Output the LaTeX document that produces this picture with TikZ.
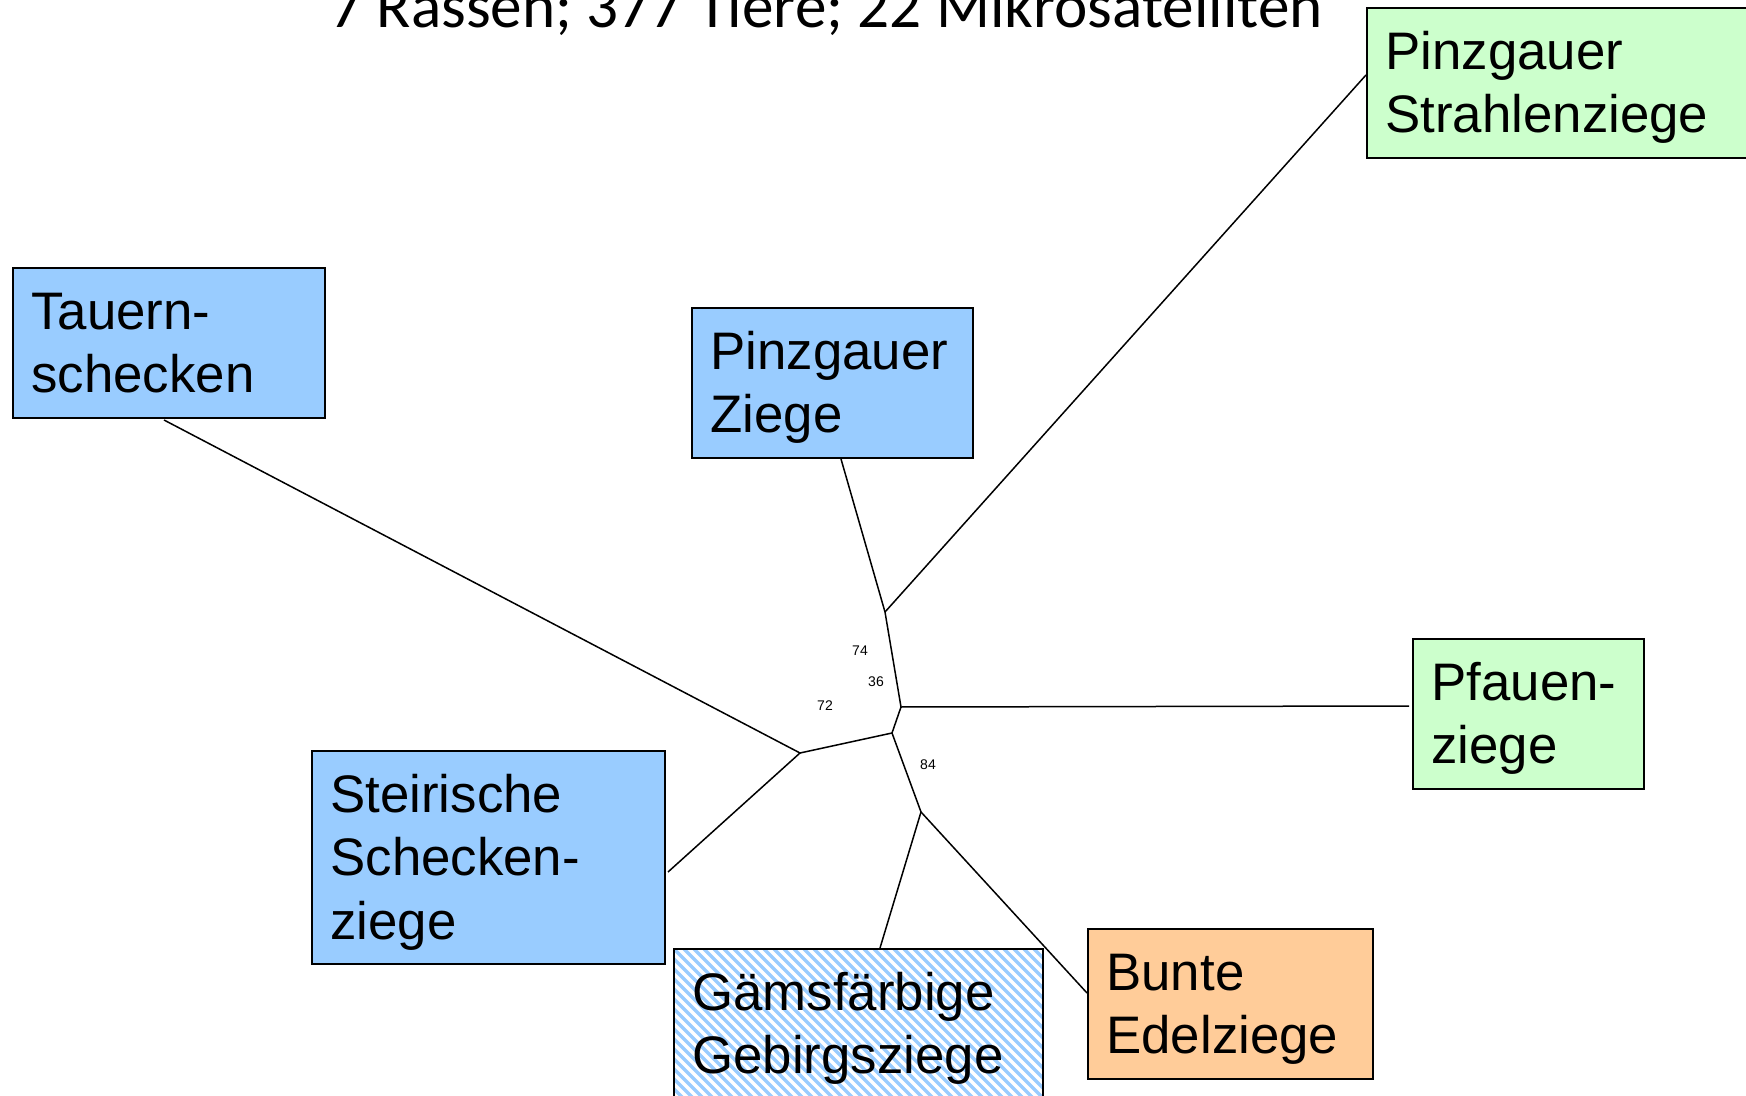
\documentclass[tikz,border=0pt]{standalone}
\usepackage{xcolor}
\usepackage{fontspec}
\setmainfont{Liberation Sans}
\newfontfamily\titlefont{Carlito}
\usepackage{tikz}
\usetikzlibrary{calc}
\definecolor{breedblue}{HTML}{99CCFF}
\definecolor{breedgreen}{HTML}{CCFFCC}
\definecolor{breedorange}{HTML}{FFCC99}
\tikzset{
  breed/.style={draw=black, line width=0.9pt, anchor=north west, align=left,
    inner xsep=9.25pt, inner ysep=0pt, text height=30.65pt,
    font=\fontsize{26.4}{31.75}\selectfont},
  twolines/.style={text depth=44.35pt},
  threelines/.style={text depth=75.85pt},
  branch/.style={line width=0.75pt},
  support/.style={font=\fontsize{7}{8}\selectfont, inner sep=0pt},
  stripe/.style={breedblue, line width=1.75pt}
}

\begin{document}
\begin{tikzpicture}[x=0.5pt,y=-0.5pt]
\useasboundingbox (0,0) rectangle (1746,1096);
\node[font=\titlefont\fontsize{31.6}{38}\selectfont, anchor=base] (title) at (826.5,28) {7 Rassen; 377 Tiere; 22 Mikrosatelliten};
% inner points of the tree
\coordinate (a) at (800,753);
\coordinate (b) at (892,733);
\coordinate (c) at (901,707);
\coordinate (d) at (885,612);
\coordinate (e) at (921,812);
% tips
\coordinate (tauerntip) at (164,420);
\coordinate (steirtip) at (668,872);
\coordinate (pfauentip) at (1409,706);
\coordinate (pztip) at (841,459);
\coordinate (strahlentip) at (1366,75);
\coordinate (gamstip) at (880,948);
\coordinate (buntetip) at (1087,993);
\draw[branch] (tauerntip) -- (a) -- (steirtip);
\draw[branch] (a) -- (b) -- (c) -- (pfauentip);
\draw[branch] (c) -- (d) -- (pztip);
\draw[branch] (d) -- (strahlentip);
\draw[branch] (b) -- (e) -- (gamstip);
\draw[branch] (e) -- (buntetip);
\node[support] (s74) at (860,651) {74};
\node[support] (s36) at (876,682) {36};
\node[support] (s72) at (825,706) {72};
\node[support] (s84) at (928,765) {84};
% breeds
\node[breed, twolines, fill=breedblue, text width=137.5pt] (tauern) at (12,267) {Tauern-\\schecken};
\node[breed, twolines, fill=breedblue, text width=122pt] (pinzziege) at (691,307) {Pinzgauer\\Ziege};
\node[breed, twolines, fill=breedgreen, text width=191.5pt] (strahlen) at (1366,7) {Pinzgauer\\Strahlenziege};
\node[breed, twolines, fill=breedgreen, text width=97pt] (pfauen) at (1412,638) {Pfauen-\\ziege};
\node[breed, threelines, fill=breedblue, text width=158pt] (steirisch) at (311,750) {Steirische\\Schecken-\\ziege};
\node[breed, twolines, fill=white, text width=166pt,
  path picture={\foreach \k in {0,...,60} \draw[stripe] ([xshift=\k*5pt-90pt]path picture bounding box.north west) -- ++(120pt,-120pt);}] (gams) at (673,948) {Gämsfärbige\\Gebirgsziege};
\node[breed, twolines, fill=breedorange, text width=124pt] (bunte) at (1087,928) {Bunte\\Edelziege};
\end{tikzpicture}
\end{document}
